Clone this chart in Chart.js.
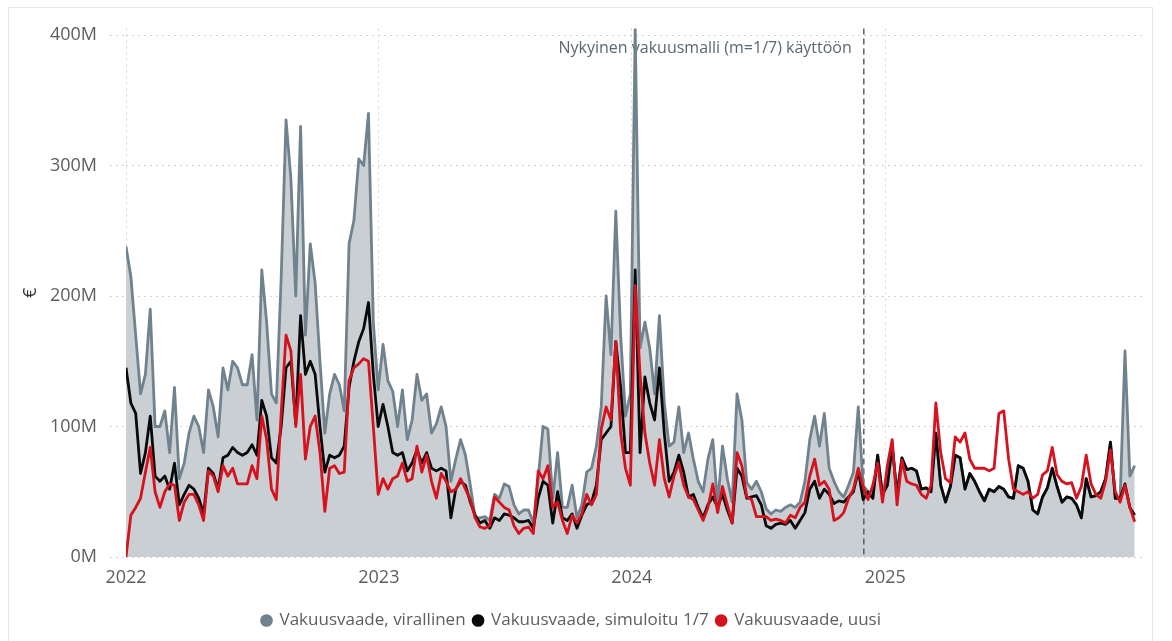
<!DOCTYPE html>
<html>
<head>
<meta charset="utf-8">
<script src="https://cdn.jsdelivr.net/npm/chart.js@4.4.1/dist/chart.umd.min.js"></script>
<style>
  html, body { margin: 0; padding: 0; background: #fff; }
  #wrap { position: relative; width: 1172px; height: 641px; overflow: hidden; }
  #wrap canvas { position: absolute; left: 0; top: 0; }
  #frame { position: absolute; left: 8px; top: 7px; width: 1145px; height: 660px; border: 1px solid #e6e6e6; box-sizing: border-box; pointer-events: none; }
</style>
</head>
<body>
<div id="wrap">
  <canvas id="chart" width="1172" height="641"></canvas>
  <div id="frame"></div>
</div>
<script>
const seriesNames = ['Vakuusvaade, virallinen', 'Vakuusvaade, simuloitu 1/7', 'Vakuusvaade, uusi'];
const firstWeek = '2022-01-01';
const yearLabels = ['2022', '2023', '2024', '2025'];
const yTicks = [0, 100, 200, 300, 400];
const modelDate = '2024-12-01';
const modelLabel = 'Nykyinen vakuusmalli (m=1/7) käyttöön';

// weekly values, millions of euros, first value = week of firstWeek
const official = [
  238, 215, 170, 125, 140, 190, 100, 100, 112, 80,
  130, 60, 72, 95, 108, 100, 80, 128, 115, 92,
  145, 128, 150, 145, 132, 132, 155, 105, 220, 180,
  125, 118, 214, 335, 290, 200, 330, 170, 240, 210,
  150, 95, 125, 140, 132, 112, 240, 258, 305, 300,
  340, 180, 128, 163, 135, 127, 100, 128, 90, 105,
  140, 120, 125, 95, 102, 115, 100, 58, 75, 90,
  78, 55, 30, 30, 31, 28, 48, 45, 56, 54,
  40, 33, 36, 36, 26, 60, 100, 98, 45, 80,
  38, 38, 55, 30, 40, 65, 68, 85, 115, 200,
  155, 265, 170, 108, 125, 405, 160, 180, 160, 125,
  185, 118, 85, 88, 115, 80, 95, 75, 58, 50,
  75, 90, 40, 85, 60, 42, 125, 105, 57, 52,
  58, 50, 37, 33, 36, 35, 38, 40, 38, 42,
  58, 90, 108, 85, 110, 68, 58, 50, 46, 55,
  65, 115, 55, 50, 45, 78, 48, 55, 85, 48,
  76, 67, 68, 66, 52, 53, 50, 95, 55, 42,
  54, 78, 76, 52, 64, 58, 50, 43, 52, 50,
  54, 52, 46, 45, 70, 68, 58, 36, 33, 46,
  53, 68, 54, 42, 46, 45, 40, 30, 60, 46,
  47, 50, 60, 88, 45, 45, 158, 62, 70
];
const simulated = [
  145, 118, 110, 64, 80, 108, 62, 58, 62, 52,
  72, 40, 48, 55, 52, 45, 33, 68, 64, 52,
  76, 78, 84, 80, 78, 80, 86, 78, 120, 108,
  76, 72, 100, 145, 150, 102, 185, 140, 150, 140,
  100, 65, 78, 76, 78, 85, 130, 150, 165, 175,
  195, 140, 100, 117, 100, 80, 78, 80, 66, 72,
  82, 72, 80, 68, 66, 68, 66, 30, 52, 58,
  55, 42, 32, 26, 28, 22, 30, 28, 33, 32,
  30, 27, 27, 28, 22, 45, 58, 55, 26, 50,
  30, 28, 33, 22, 32, 40, 42, 55, 90, 95,
  100, 165, 130, 80, 80, 220, 80, 138, 118, 105,
  145, 95, 58, 65, 78, 65, 46, 48, 38, 30,
  40, 46, 38, 48, 36, 26, 68, 62, 45, 46,
  47, 40, 24, 22, 25, 26, 25, 28, 22, 28,
  34, 52, 58, 45, 52, 48, 41, 43, 42, 46,
  50, 66, 44, 50, 45, 78, 48, 55, 85, 48,
  76, 67, 68, 66, 52, 53, 50, 95, 55, 42,
  54, 78, 76, 52, 64, 58, 50, 43, 52, 50,
  54, 52, 46, 45, 70, 68, 58, 36, 33, 46,
  53, 68, 54, 42, 46, 45, 40, 30, 60, 46,
  47, 50, 60, 88, 45, 45, 56, 38, 32
];
const uusi = [
  0, 32, 38, 45, 65, 84, 50, 38, 50, 56,
  55, 28, 42, 48, 48, 40, 28, 66, 62, 50,
  70, 62, 68, 56, 56, 56, 70, 60, 108, 90,
  52, 44, 110, 170, 158, 100, 140, 75, 100, 108,
  80, 35, 68, 70, 64, 65, 135, 145, 148, 152,
  150, 100, 48, 60, 52, 60, 62, 72, 58, 60,
  85, 65, 78, 58, 45, 64, 58, 50, 52, 60,
  52, 44, 30, 23, 22, 24, 46, 42, 38, 36,
  24, 18, 22, 23, 18, 66, 60, 70, 38, 42,
  28, 18, 32, 26, 33, 48, 40, 48, 98, 115,
  105, 165, 95, 68, 55, 208, 140, 95, 72, 55,
  90, 60, 46, 62, 72, 55, 46, 44, 36, 28,
  38, 56, 34, 54, 40, 26, 80, 70, 46, 44,
  31, 31, 31, 28, 29, 28, 26, 32, 30, 38,
  42, 62, 75, 55, 58, 52, 28, 30, 34, 45,
  52, 68, 54, 44, 55, 72, 42, 70, 90, 40,
  74, 58, 56, 55, 48, 45, 55, 118, 80, 60,
  57, 92, 88, 95, 75, 68, 68, 68, 66, 68,
  110, 112, 75, 52, 50, 48, 50, 45, 48, 63,
  66, 84, 63, 58, 56, 57, 45, 54, 78, 56,
  48, 45, 58, 82, 50, 42, 55, 38, 27
];

const textColor = '#605e5c';
const gridColor = '#d2d2d2';

const dayOf = s => (Date.parse(s) - Date.parse(firstWeek)) / 864e5;
const toPoints = arr => arr.map((v, i) => ({ x: i * 7, y: v }));

Chart.defaults.font.family = '"Open Sans", sans-serif';

// dashed "model in use" line and its caption
const modelLine = {
  id: 'modelLine',
  beforeDatasetsDraw(chart) {
    const { ctx, chartArea, scales } = chart;
    const x = scales.x.getPixelForValue(dayOf(modelDate));
    ctx.save();
    ctx.strokeStyle = '#5f5f5f';
    ctx.lineWidth = 1.5;
    ctx.setLineDash([6, 4]);
    ctx.beginPath();
    ctx.moveTo(x, chartArea.top);
    ctx.lineTo(x, chartArea.bottom);
    ctx.stroke();
    ctx.setLineDash([]);
    ctx.font = '16px "Open Sans"';
    ctx.fillStyle = '#5b6770';
    ctx.textAlign = 'right';
    ctx.textBaseline = 'middle';
    ctx.fillText(modelLabel, x - 12, chartArea.top + 20);
    ctx.restore();
  }
};

new Chart(document.getElementById('chart'), {
  type: 'line',
  data: {
    datasets: [{
      label: seriesNames[0],
      data: toPoints(official),
      borderColor: '#71828f',
      backgroundColor: '#c9cfd3',
      borderWidth: 2.8,
      fill: 'origin',
      order: 3
    }, {
      label: seriesNames[1],
      data: toPoints(simulated),
      borderColor: '#0a0a0a',
      backgroundColor: '#0a0a0a',
      borderWidth: 2.8,
      fill: false,
      order: 2
    }, {
      label: seriesNames[2],
      data: toPoints(uusi),
      borderColor: '#d5121e',
      backgroundColor: '#d5121e',
      borderWidth: 2.8,
      fill: false,
      order: 1
    }]
  },
  options: {
    responsive: false,
    animation: false,
    devicePixelRatio: 1,
    elements: {
      line: { tension: 0, borderJoinStyle: 'round' },
      point: { radius: 0 }
    },
    layout: { padding: { top: 28.5, right: 29, left: 0, bottom: 2 } },
    scales: {
      x: {
        type: 'linear',
        min: 0,
        max: 1468,
        afterBuildTicks: s => { s.ticks = yearLabels.map(y => ({ value: dayOf(y + '-01-01') })); },
        afterFit: s => { s.height = 47; },
        ticks: {
          callback: v => yearLabels.find(y => dayOf(y + '-01-01') === v),
          color: textColor,
          font: { size: 18 },
          padding: 10,
          maxRotation: 0,
          autoSkip: false
        },
        grid: { color: gridColor, drawTicks: false },
        border: { display: false, dash: [2, 4] }
      },
      y: {
        min: 0,
        max: 405,
        afterBuildTicks: s => { s.ticks = yTicks.map(v => ({ value: v })); },
        afterFit: s => { s.width = 126; },
        ticks: {
          callback: v => v + 'M',
          color: textColor,
          font: { size: 18 },
          padding: 13
        },
        grid: { color: gridColor, tickLength: 16, tickColor: gridColor, tickBorderDash: [2, 4] },
        border: { display: false, dash: [2, 4] },
        title: {
          display: true,
          text: '€',
          color: '#333',
          font: { size: 18 },
          padding: { top: 20, bottom: 0 }
        }
      }
    },
    plugins: {
      filler: { drawTime: 'beforeDatasetsDraw' },
      tooltip: { enabled: false },
      legend: {
        position: 'bottom',
        labels: {
          usePointStyle: true,
          pointStyle: 'circle',
          boxWidth: 9,
          boxHeight: 9,
          padding: 8,
          color: textColor,
          font: { size: 17 },
          sort: (a, b) => a.datasetIndex - b.datasetIndex,
          generateLabels: chart => Chart.defaults.plugins.legend.labels.generateLabels(chart)
            .map(l => Object.assign(l, { fillStyle: l.strokeStyle, lineWidth: 0 }))
        }
      }
    }
  },
  plugins: [modelLine]
});
</script>
</body>
</html>
